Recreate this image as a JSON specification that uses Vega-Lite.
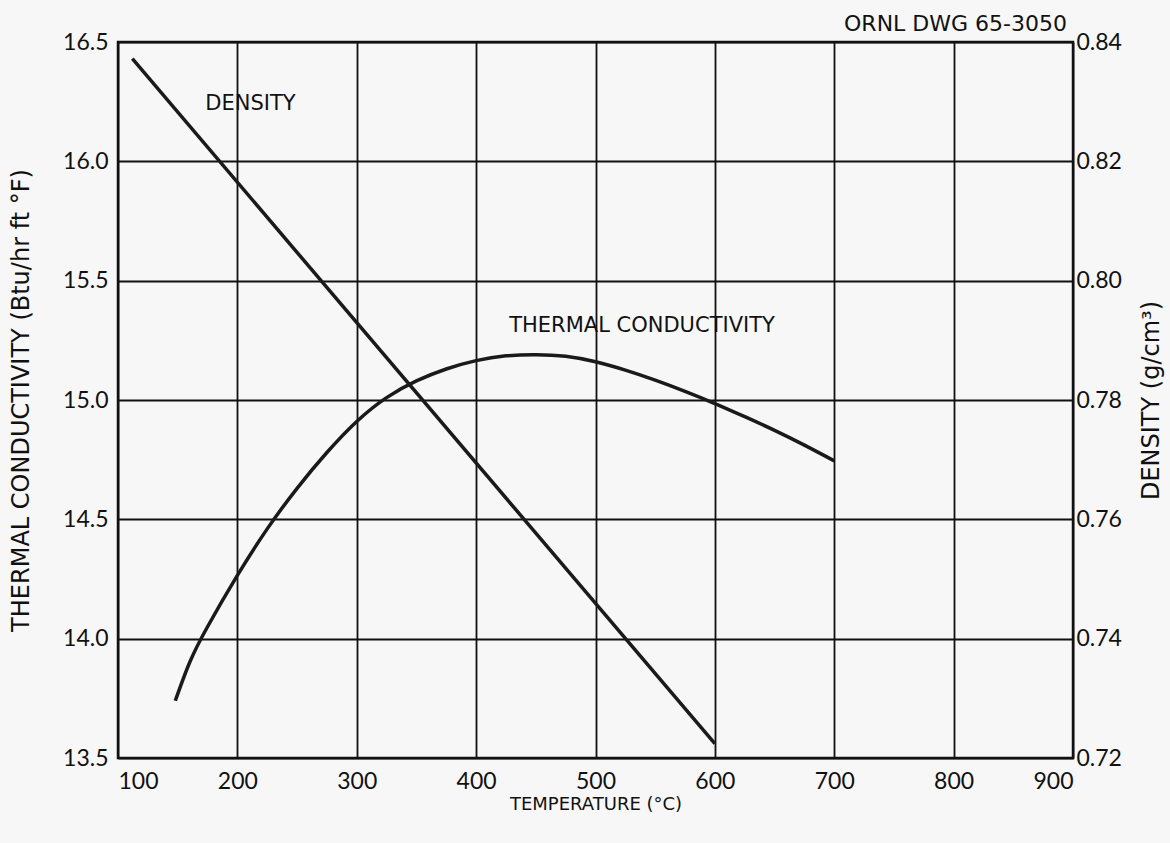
{
  "$schema": "https://vega.github.io/schema/vega-lite/v6.json",
  "autosize": {"type": "none"},
  "width": 955,
  "height": 716,
  "padding": {"left": 118, "top": 42, "right": 97, "bottom": 85},
  "background": "#f7f7f7",
  "config": {
    "font": "Lato",
    "view": {"stroke": "#111111", "strokeWidth": 2.5},
    "axis": {"labelColor": "#111111", "titleColor": "#111111", "titleFontWeight": "normal", "ticks": false, "tickSize": 0, "domain": false, "labelFont": "Lato", "titleFont": "DejaVu Sans"}
  },
  "title": {"text": "ORNL DWG 65-3050", "anchor": "end", "frame": "group", "offset": -5, "dx": -6, "fontSize": 22, "fontWeight": "normal", "color": "#111111", "font": "DejaVu Sans"},
  "datasets": {
    "tc": [
      {"t": 148, "k": 13.74},
      {"t": 160, "k": 13.9},
      {"t": 175, "k": 14.05},
      {"t": 200, "k": 14.265},
      {"t": 225, "k": 14.46},
      {"t": 250, "k": 14.63},
      {"t": 275, "k": 14.78},
      {"t": 300, "k": 14.91},
      {"t": 325, "k": 15.01},
      {"t": 350, "k": 15.08},
      {"t": 375, "k": 15.13},
      {"t": 400, "k": 15.165},
      {"t": 425, "k": 15.185},
      {"t": 450, "k": 15.19},
      {"t": 475, "k": 15.183},
      {"t": 500, "k": 15.16},
      {"t": 525, "k": 15.125},
      {"t": 550, "k": 15.083},
      {"t": 575, "k": 15.036},
      {"t": 600, "k": 14.985},
      {"t": 625, "k": 14.93},
      {"t": 650, "k": 14.873},
      {"t": 675, "k": 14.811},
      {"t": 700, "k": 14.745}
    ],
    "dens": [
      {"t": 112, "d": 0.8372},
      {"t": 600, "d": 0.7224}
    ],
    "labels": [
      {"label": "DENSITY", "t": 211, "k": 16.24},
      {"label": "THERMAL CONDUCTIVITY", "t": 539, "k": 15.31}
    ]
  },
  "layer": [
    {
      "layer": [
        {
          "data": {"name": "tc"},
          "mark": {"type": "line", "interpolate": "natural", "color": "#1a1a1a", "strokeWidth": 3.5},
          "encoding": {
            "x": {"field": "t", "type": "quantitative", "scale": {"domain": [100, 900], "nice": false},
              "axis": {"values": [100, 200, 300, 400, 500, 600, 700, 800, 900], "format": "d", "title": "TEMPERATURE (°C)", "labelFontSize": 23, "labelPadding": 12, "titleFontSize": 18, "titlePadding": 2, "grid": true, "gridColor": "#111111", "gridWidth": 1.8, "gridOpacity": 1}},
            "y": {"field": "k", "type": "quantitative", "scale": {"domain": [13.5, 16.5], "nice": false},
              "axis": {"orient": "left", "values": [13.5, 14.0, 14.5, 15.0, 15.5, 16.0, 16.5], "format": ".1f", "title": "THERMAL CONDUCTIVITY (Btu/hr ft °F)", "labelFontSize": 23, "labelPadding": 10, "titleFontSize": 24, "titlePadding": 29, "grid": true, "gridColor": "#111111", "gridWidth": 1.8, "gridOpacity": 1}}
          }
        },
        {
          "data": {"name": "labels"},
          "mark": {"type": "text", "fontSize": 21, "color": "#111111", "align": "center", "baseline": "middle", "font": "DejaVu Sans"},
          "encoding": {
            "x": {"field": "t", "type": "quantitative"},
            "y": {"field": "k", "type": "quantitative"},
            "text": {"field": "label"}
          }
        }
      ]
    },
    {
      "data": {"name": "dens"},
      "mark": {"type": "line", "color": "#1a1a1a", "strokeWidth": 3.5},
      "encoding": {
        "x": {"field": "t", "type": "quantitative"},
        "y": {"field": "d", "type": "quantitative", "scale": {"domain": [0.72, 0.84], "nice": false},
          "axis": {"orient": "right", "values": [0.72, 0.74, 0.76, 0.78, 0.8, 0.82, 0.84], "format": ".2f", "title": "DENSITY (g/cm³)", "titleAngle": 270, "labelFontSize": 23, "labelPadding": 3, "titleFontSize": 24, "titlePadding": 42, "grid": false}}
      }
    }
  ],
  "resolve": {"scale": {"y": "independent"}}
}
